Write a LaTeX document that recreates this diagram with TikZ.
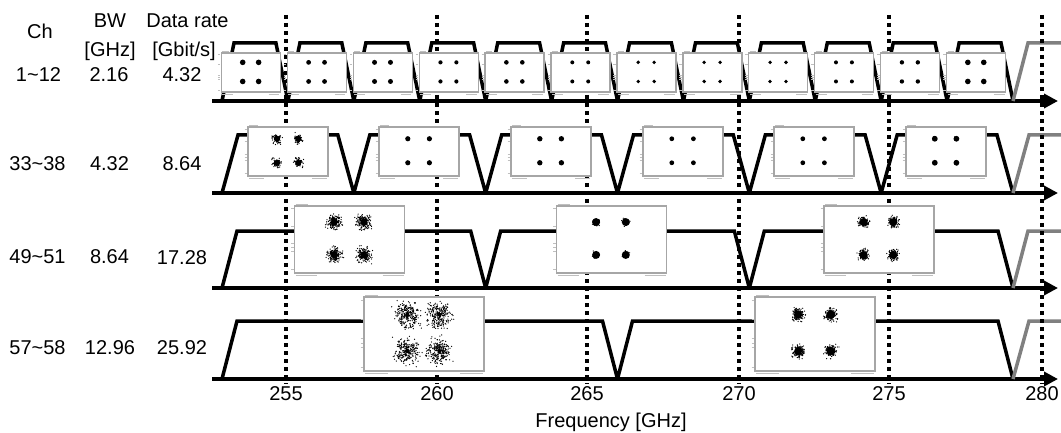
\documentclass[tikz,border=0pt]{standalone}
\usepackage{fontspec}
\setmainfont{Liberation Sans}
\usetikzlibrary{arrows.meta}
\newcommand{\cstl}[7]{% cx, cy, w, h, core radius, spread, n
  \fill[white] ({#1-#3/2},{#2-#4/2}) rectangle ({#1+#3/2},{#2+#4/2});
  \draw[cbox] ({#1-#3/2},{#2-#4/2}) rectangle ({#1+#3/2},{#2+#4/2});
  \foreach \ty in {0.04,0.3,0.56,0.62,0.68,0.95}{
    \draw[tick] ({#1-#3/2-3.5},{#2-#4/2+\ty*#4}) -- ({#1-#3/2-1},{#2-#4/2+\ty*#4});}
  \draw[tick] ({#1-#3/2+1},{#2+#4/2+2.5}) -- ({#1-#3/2+0.2*#3},{#2+#4/2+2.5});
  \draw[tick] ({#1+#3/2-0.2*#3},{#2+#4/2+2.5}) -- ({#1+#3/2-1},{#2+#4/2+2.5});
  \draw[tick] ({#1-#3/2+1},{#2-#4/2-2}) -- ({#1-#3/2+0.12*#3},{#2-#4/2-2});
  \foreach \fx in {-0.14,0.13}{\foreach \fy in {-0.26,0.23}{
    \fill ({#1+\fx*#3},{#2+\fy*#4}) circle (#5);
    \ifnum#7>0
      \foreach \i in {1,...,#7}{
        \fill ({#1+\fx*#3+#6*(rand+rand+rand)/1.7},{#2+\fy*#4+#6*(rand+rand+rand)/1.7}) circle (0.65);}
    \fi
  }}
}
\begin{document}
\begin{tikzpicture}[x=1pt,y=-1pt,
  lbl/.style={anchor=base,inner sep=0pt,font=\fontsize{20}{24}\selectfont},
  axisline/.style={line width=4pt,-{Triangle[length=14pt,width=14pt]}},
  spec/.style={line width=3.5pt,line join=miter,miter limit=2},
  specgray/.style={line width=3.5pt,draw=black!50,line join=miter,miter limit=2},
  gridline/.style={line width=3.5pt,dash pattern=on 4pt off 4pt},
  cbox/.style={draw=black!35,line width=1.3pt},
  tick/.style={draw=black!25,line width=0.6pt},
]
\pgfmathsetseed{7}
\useasboundingbox (0,0) rectangle (1061,433);

% header and row labels
\node[lbl] (hch) at (40,39) {Ch};
\node[lbl] (hbw) at (110,28) {BW};
\node[lbl] (hbwu) at (110,57) {[GHz]};
\node[lbl] (hdr) at (187.5,28) {Data rate};
\node[lbl] (hdru) at (184,57) {[Gbit/s]};

\node[lbl] (c1) at (38.5,82) {1\char`~12};
\node[lbl] (b1) at (109,82) {2.16};
\node[lbl] (d1) at (182,82) {4.32};
\node[lbl] (c2) at (37.5,171) {33\char`~38};
\node[lbl] (b2) at (109.5,171) {4.32};
\node[lbl] (d2) at (182,171) {8.64};
\node[lbl] (c3) at (37.5,263) {49\char`~51};
\node[lbl] (b3) at (109.5,263) {8.64};
\node[lbl] (d3) at (182,264) {17.28};
\node[lbl] (c4) at (37.5,354) {57\char`~58};
\node[lbl] (b4) at (110,354) {12.96};
\node[lbl] (d4) at (182,354) {25.92};

% axes
\draw[axisline] (212,101) -- (1058,101);
\draw[axisline] (212,193) -- (1058,193);
\draw[axisline] (212,288) -- (1058,288);
\draw[axisline] (212,379) -- (1058,379);

% spectra
\draw[spec] (222,101) foreach \k in {1,...,12}{
  -- ({222+(\k-1)*65.92+12},43) -- ({222+\k*65.92-12},43) -- ({222+\k*65.92},101)};
\draw[spec] (222,193) foreach \k in {1,...,6}{
  -- ({222+(\k-1)*131.83+16},135) -- ({222+\k*131.83-16},135) -- ({222+\k*131.83},193)};
\draw[spec] (222,288) foreach \k in {1,...,3}{
  -- ({222+(\k-1)*263.67+15},231) -- ({222+\k*263.67-15},231) -- ({222+\k*263.67},288)};
\draw[spec] (222,379) foreach \k in {1,...,2}{
  -- ({222+(\k-1)*395.5+15},321) -- ({222+\k*395.5-15},321) -- ({222+\k*395.5},379)};
\draw[specgray] (1013,101) -- (1028,43) -- (1061,43);
\draw[specgray] (1013,193) -- (1029,135) -- (1061,135);
\draw[specgray] (1013,288) -- (1028,231) -- (1061,231);
\draw[specgray] (1013,379) -- (1029,321) -- (1061,321);

% frequency grid
\foreach \x/\f in {286/255,437/260,587/265,739/270,889/275,1042/280}{
  \draw[gridline] (\x,15) -- (\x,384);
  \node[lbl] (t\f) at (\x,400) {\f};
}
\node[lbl] (xlab) at (611,427) {Frequency [GHz]};

% constellations row 1
\foreach \k/\r in {1/2.8,2/2.4,3/2.5,4/2.1,5/2.3,6/2.0,7/1.9,8/1.9,9/1.9,10/2.0,11/2.2,12/2.8}{
  \cstl{222+65.92*(\k-0.5)-4}{72.5}{59}{39}{\r}{0}{0}
}
% row 2
\cstl{288}{151.5}{80}{49}{3}{4}{70}
\cstl{419}{151.5}{80}{49}{2.6}{0}{0}
\cstl{551}{151.5}{80}{49}{2.7}{1.2}{10}
\cstl{683}{151.5}{80}{49}{2.4}{0}{0}
\cstl{814}{151.5}{80}{49}{2.4}{0}{0}
\cstl{946}{151.5}{80}{49}{2.9}{1.5}{15}
% row 3
\cstl{349.5}{239.5}{110}{67}{3.5}{6}{170}
\cstl{611.5}{239.5}{110}{67}{4}{2.8}{50}
\cstl{879}{239.5}{110}{67}{4}{4.5}{120}
% row 4
\cstl{424}{334}{120}{74}{2}{10}{260}
\cstl{815}{334}{120}{74}{4}{5}{150}
\end{tikzpicture}
\end{document}
